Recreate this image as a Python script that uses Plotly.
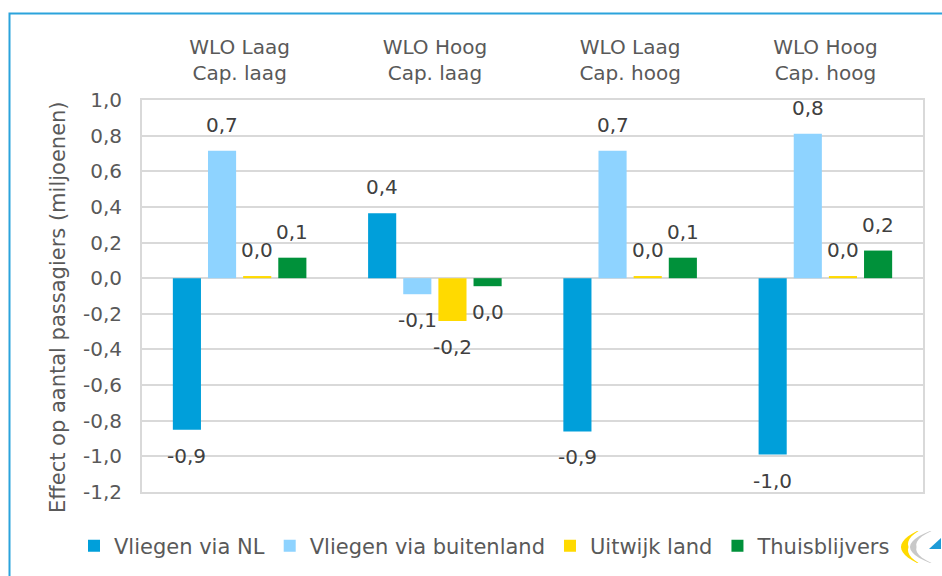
import plotly.graph_objects as go

# ---------------- data ----------------
categories = ["WLO Laag<br>Cap. laag", "WLO Hoog<br>Cap. laag",
              "WLO Laag<br>Cap. hoog", "WLO Hoog<br>Cap. hoog"]
series_names = ["Vliegen via NL", "Vliegen via buitenland", "Uitwijk land", "Thuisblijvers"]
vliegen_nl = [-0.85, 0.365, -0.86, -0.99]
vliegen_buitenland = [0.715, -0.09, 0.715, 0.81]
uitwijk_land = [0.012, -0.24, 0.012, 0.012]
thuisblijvers = [0.115, -0.045, 0.115, 0.155]
labels_nl = ["-0,9", "0,4", "-0,9", "-1,0"]
labels_buitenland = ["0,7", "-0,1", "0,7", "0,8"]
labels_uitwijk = ["0,0", "-0,2", "0,0", "0,0"]
labels_thuis = ["0,1", "0,0", "0,1", "0,2"]
y_tickvals = [1.0, 0.8, 0.6, 0.4, 0.2, 0.0, -0.2, -0.4, -0.6, -0.8, -1.0, -1.2]
y_ticktext = ["1,0", "0,8", "0,6", "0,4", "0,2", "0,0", "-0,2", "-0,4", "-0,6", "-0,8", "-1,0", "-1,2"]
y_title = "Effect op aantal passagiers (miljoenen)"

# ---------------- style ----------------
colors = ["#009FDA", "#8ED3FF", "#FFDA00", "#00913A"]
FONT = "DejaVu Sans"
W, H = 942, 576
ML, MR, MT, MB = 142, 19, 100, 84
BARGAP = 0.28
BARGROUPGAP = 0.2
LABEL_OFFSET = 26

values = [vliegen_nl, vliegen_buitenland, uitwijk_land, thuisblijvers]
labels = [labels_nl, labels_buitenland, labels_uitwijk, labels_thuis]

pw, ph = W - ML - MR, H - MT - MB


def px(x):
    return (x - ML) / pw


def py(y):
    return (H - MB - y) / ph


fig = go.Figure()
for name, vals, col in zip(series_names, values, colors):
    fig.add_trace(go.Bar(name=name, x=categories, y=vals, marker_color=col,
                         marker_line_width=0, hoverinfo="skip"))

annotations = []
n = len(series_names)
for i, (vals, labs) in enumerate(zip(values, labels)):
    for j, (v, t) in enumerate(zip(vals, labs)):
        annotations.append(dict(
            x=j + (i - (n - 1) / 2) * (1 - BARGAP) / n, y=v, xref="x", yref="y",
            text=t, showarrow=False, yshift=LABEL_OFFSET if v >= 0 else -LABEL_OFFSET,
            font=dict(family=FONT, size=20, color="#404040")))

annotations.append(dict(
    x=px(58), y=py(307), xref="paper", yref="paper", text=y_title, showarrow=False,
    textangle=-90, xanchor="center", yanchor="middle",
    font=dict(family=FONT, size=21, color="#595959")))


def path(points):
    return "M " + " L ".join(f"{px(a):.5f},{py(b):.5f}" for a, b in points) + " Z"


def crescent(x_top, x_left, thick):
    pts_out, pts_in = [], []
    for k in range(13):
        t = k / 12
        yy = 531 + 32 * t
        xx = x_left + (x_top - x_left) * (2 * t - 1) ** 2
        pts_out.append((xx, yy))
        pts_in.append((xx + thick * (1 - abs(2 * t - 1)) + 1.5, yy))
    return pts_out + pts_in[::-1]


shapes = [
    # outer frame
    dict(type="rect", xref="paper", yref="paper", x0=px(9.5), x1=px(1010),
         y0=py(13.5), y1=py(640), line=dict(color="#2BA3DC", width=2), layer="above"),
    # logo (decorative)
    dict(type="path", xref="paper", yref="paper", path=path(crescent(917, 901, 6)),
         fillcolor="#FFDA00", line=dict(width=0)),
    dict(type="path", xref="paper", yref="paper", path=path(crescent(930, 910, 5)),
         fillcolor="#C8C8C8", line=dict(width=0)),
    dict(type="path", xref="paper", yref="paper",
         path=path([(929, 549), (941, 549), (941, 538)]),
         fillcolor="#1E9BD7", line=dict(width=0)),
]

fig.update_layout(
    width=W, height=H,
    margin=dict(l=ML, r=MR, t=MT, b=MB, autoexpand=False),
    paper_bgcolor="white", plot_bgcolor="white",
    font=dict(family=FONT, size=20, color="#595959"),
    barmode="group", bargap=BARGAP, bargroupgap=BARGROUPGAP,
    showlegend=True,
    legend=dict(orientation="h", x=px(74), xanchor="left", y=py(546), yanchor="middle",
                font=dict(family=FONT, size=21, color="#595959"),
                bgcolor="rgba(0,0,0,0)", itemclick=False),
    annotations=annotations,
    shapes=shapes,
)
fig.update_xaxes(side="top", showgrid=False, showline=True, mirror=True,
                 linecolor="#D9D9D9", linewidth=2, ticks="", ticklabelstandoff=10,
                 tickfont=dict(family=FONT, size=20, color="#595959"), fixedrange=True)
fig.update_yaxes(range=[-1.2, 1.0], tickvals=y_tickvals, ticktext=y_ticktext,
                 showgrid=True, gridcolor="#D9D9D9", gridwidth=2,
                 zeroline=True, zerolinecolor="#D9D9D9", zerolinewidth=2,
                 showline=True, mirror=True, linecolor="#D9D9D9", linewidth=2,
                 ticks="", ticklabelstandoff=14,
                 tickfont=dict(family=FONT, size=20, color="#595959"), fixedrange=True)

fig.write_html("out.html", config={"displayModeBar": False},
               post_script="document.body.style.margin='0';document.body.style.overflow='hidden';")
